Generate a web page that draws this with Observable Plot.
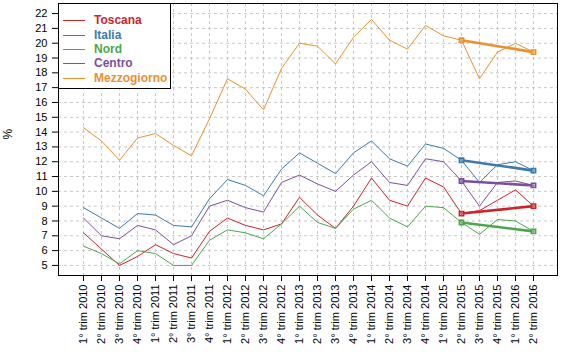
<!DOCTYPE html>
<html>
<head>
<meta charset="utf-8">
<script src="https://cdn.jsdelivr.net/npm/d3@7"></script>
<script src="https://cdn.jsdelivr.net/npm/@observablehq/plot@0.6"></script>
<style>
  html, body { margin: 0; padding: 0; background: #fff; }
  #wrap { position: relative; width: 565px; height: 352px; font-family: "Liberation Sans", Arial, sans-serif; }
  #legend { position: absolute; left: 58px; top: 3px; width: 113px; height: 86px; background: #fff; border: 1px solid #000; box-sizing: border-box; }
  .row { position: absolute; left: 0; height: 14px; }
  .row .sw { position: absolute; left: 4px; top: 7px; width: 22px; height: 0; border-top: 1px solid; }
  .row .lb { position: absolute; left: 35px; top: 0; font-size: 12px; font-weight: bold; line-height: 14px; white-space: nowrap; }
</style>
</head>
<body>
<div id="wrap"><div id="legend"></div></div>
<script>
const quarters = [
  "1° trim 2010","2° trim 2010","3° trim 2010","4° trim 2010",
  "1° trim 2011","2° trim 2011","3° trim 2011","4° trim 2011",
  "1° trim 2012","2° trim 2012","3° trim 2012","4° trim 2012",
  "1° trim 2013","2° trim 2013","3° trim 2013","4° trim 2013",
  "1° trim 2014","2° trim 2014","3° trim 2014","4° trim 2014",
  "1° trim 2015","2° trim 2015","3° trim 2015","4° trim 2015",
  "1° trim 2016","2° trim 2016"
];
const seriesNames = ["Toscana", "Italia", "Nord", "Centro", "Mezzogiorno"];
const seriesColors = ["#CC2529", "#3D7AAB", "#4DA64D", "#7B4F9E", "#E8912D"];
const toscana     = [7.2, 6.1, 5.0, 5.6, 6.4, 5.8, 5.5, 7.3, 8.2, 7.7, 7.4, 7.8, 9.6, 8.4, 7.5, 9.0, 10.9, 9.4, 9.0, 10.9, 10.3, 8.5, 8.7, 9.4, 10.1, 9.0];
const italia      = [8.9, 8.2, 7.5, 8.5, 8.4, 7.7, 7.6, 9.5, 10.8, 10.4, 9.7, 11.5, 12.6, 11.9, 11.2, 12.6, 13.4, 12.2, 11.7, 13.2, 12.9, 12.1, 10.6, 11.8, 12.0, 11.4];
const nord        = [6.3, 5.8, 5.1, 6.0, 5.8, 5.0, 5.0, 6.7, 7.4, 7.2, 6.8, 7.8, 9.0, 7.9, 7.5, 8.8, 9.4, 8.2, 7.6, 9.0, 8.9, 7.9, 7.1, 8.1, 8.0, 7.3];
const centro      = [8.2, 7.0, 6.8, 7.7, 7.4, 6.4, 7.0, 9.0, 9.4, 8.9, 8.6, 10.6, 11.1, 10.5, 10.0, 11.1, 12.0, 10.6, 10.4, 12.2, 12.0, 10.7, 9.0, 10.6, 10.7, 10.4];
const mezzogiorno = [14.3, 13.4, 12.1, 13.6, 13.9, 13.1, 12.4, 14.9, 17.6, 16.9, 15.5, 18.3, 20.0, 19.8, 18.6, 20.4, 21.6, 20.2, 19.6, 21.2, 20.5, 20.2, 17.6, 19.4, 20.0, 19.4];
const trendFrom = "2° trim 2015";
const trendTo = "2° trim 2016";
const yTicks = d3.range(5, 23);

const allValues = [toscana, italia, nord, centro, mezzogiorno];
const rows = [];
seriesNames.forEach((s, k) => quarters.forEach((q, i) => rows.push({series: s, q, v: allValues[k][i]})));
const trendRows = rows.filter(d => d.q === trendFrom || d.q === trendTo);

const color = {domain: seriesNames, range: seriesColors};

const plot = Plot.plot({
  width: 565,
  height: 352,
  marginLeft: 58,
  marginRight: 8,
  marginTop: 3,
  marginBottom: 77,
  style: {fontFamily: "'Liberation Sans', Arial, sans-serif", fontSize: "11px", background: "#fff", color: "#000"},
  x: {type: "point", domain: quarters, padding: 1, label: null},
  y: {domain: [4.32, 22.68], label: null},
  color,
  marks: [
    Plot.gridX(quarters, {stroke: "#c8c8c8", strokeOpacity: 1, strokeDasharray: "3,3"}),
    Plot.gridY(yTicks, {stroke: "#c8c8c8", strokeOpacity: 1, strokeDasharray: "3,3"}),
    Plot.axisY(yTicks, {tickSize: 6, tickPadding: 5, fontSize: 11, label: null}),
    Plot.axisX(quarters, {tickSize: 6, tickPadding: 3, tickRotate: -90, fontSize: 11, label: null}),
    Plot.line(rows, {x: "q", y: "v", z: "series", stroke: "series", strokeWidth: 1}),
    Plot.line(trendRows, {x: "q", y: "v", z: "series", stroke: "series", strokeWidth: 2.6}),
    Plot.dot(trendRows, {x: "q", y: "v", stroke: "series", symbol: "square", r: 2.4, strokeWidth: 1.6, fill: "white", fillOpacity: 0.25}),
    Plot.frame({stroke: "#000", strokeWidth: 1}),
    Plot.text(["%"], {text: d => d, frameAnchor: "left", dx: -50, rotate: -90, fontSize: 12})
  ]
});
document.getElementById("wrap").insertBefore(plot, document.getElementById("legend"));

const legend = document.getElementById("legend");
const rowTops = [9, 23.5, 38, 52, 66.5];
seriesNames.forEach((s, k) => {
  const r = document.createElement("div");
  r.className = "row";
  r.style.top = rowTops[k] + "px";
  r.innerHTML = `<div class="sw" style="border-color:${seriesColors[k]}"></div><div class="lb" style="color:${seriesColors[k]}">${s}</div>`;
  legend.appendChild(r);
});
</script>
</body>
</html>
